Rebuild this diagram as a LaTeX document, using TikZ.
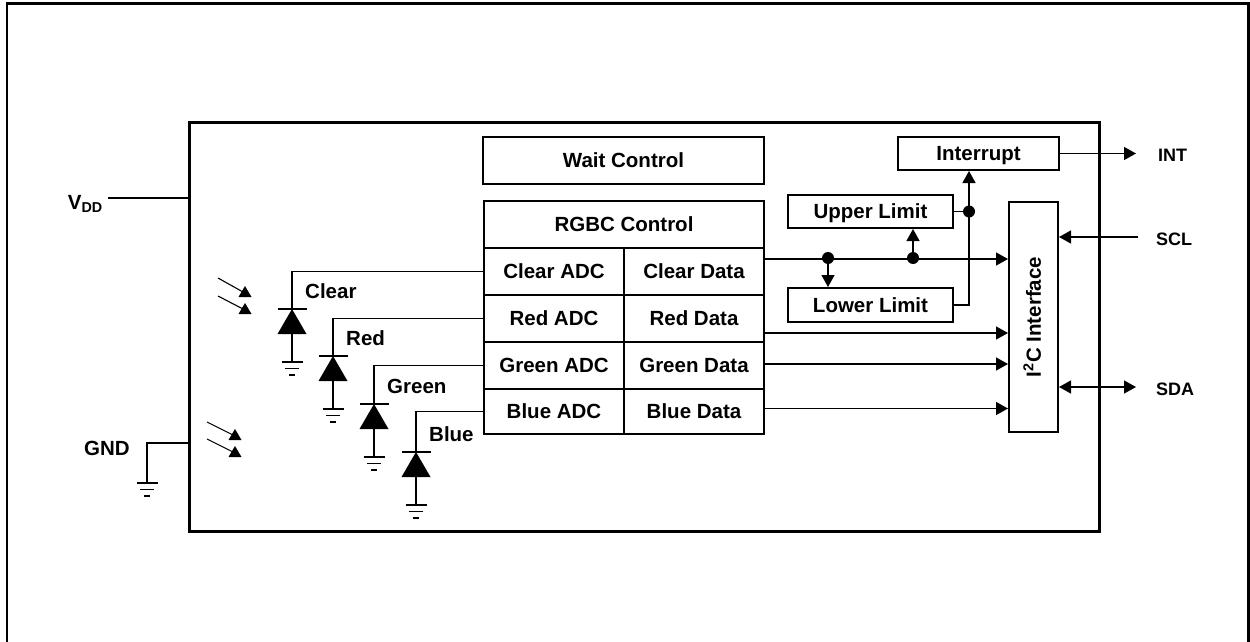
\documentclass[tikz,border=0pt]{standalone}
\usepackage{fontspec}
\setmainfont{Liberation Sans}
\usetikzlibrary{arrows.meta}
\newcommand{\lblfont}{\fontsize{20.5}{24}\selectfont\bfseries}
\newcommand{\pinfont}{\fontsize{18}{22}\selectfont\bfseries}
\begin{document}
\begin{tikzpicture}[x=1pt,y=-1pt,
  box/.style={draw, line width=2pt, font=\lblfont, inner sep=0pt, anchor=north west, text height=14.7pt, text depth=0pt},
  chipbox/.style={draw, line width=2.5pt, inner sep=0pt, anchor=north west},
  wire/.style={line width=1.3pt},
  tri/.style={-{Triangle[length=12pt,width=13pt]}},
  dtri/.style={{Triangle[length=12pt,width=13pt]}-{Triangle[length=12pt,width=13pt]}},
  lbl/.style={font=\lblfont, inner sep=0pt, text height=14.7pt, text depth=0pt},
  pin/.style={font=\pinfont, inner sep=0pt, anchor=west, text height=12.9pt, text depth=0pt},
  dot/.style={fill=black},
  gnd/.pic={\draw[wire] (-10.5,0)--(10.5,0) (-7,6.5)--(7,6.5) (-3,13)--(3,13);}
]
\useasboundingbox (0,0) rectangle (1250,642);
% outer frame
\draw[line width=2.5pt] (7,643) -- (7,3.5) -- (1248.5,3.5) -- (1248.5,643);
% chip
\node[chipbox, minimum width=910, minimum height=409] (chip) at (188,121) {};
% boxes
\node[box, minimum width=281, minimum height=47] (wait) at (482,136) {Wait Control};
\node[box, minimum width=280, minimum height=47] (rgbc) at (483,200) {RGBC Control};
\node[box, minimum width=140, minimum height=47] (clearadc) at (483,247) {Clear ADC};
\node[box, minimum width=140, minimum height=47] (cleardata) at (623,247) {Clear Data};
\node[box, minimum width=140, minimum height=47] (redadc) at (483,294) {Red ADC};
\node[box, minimum width=140, minimum height=47] (reddata) at (623,294) {Red Data};
\node[box, minimum width=140, minimum height=47] (greenadc) at (483,341) {Green ADC};
\node[box, minimum width=140, minimum height=47] (greendata) at (623,341) {Green Data};
\node[box, minimum width=140, minimum height=45] (blueadc) at (483,388) {Blue ADC};
\node[box, minimum width=140, minimum height=45] (bluedata) at (623,388) {Blue Data};
\node[box, minimum width=165, minimum height=33] (upper) at (787,194) {Upper Limit};
\node[box, minimum width=165, minimum height=34] (lower) at (787,287) {Lower Limit};
\node[box, minimum width=161, minimum height=33] (interrupt) at (897,136) {Interrupt};
\node[box, minimum width=49, minimum height=230] (i2c) at (1008,201) {};
\node[lbl, rotate=90] (i2clbl) at (i2c.center) {I\textsuperscript{2}C Interface};

% data lines to I2C
\coordinate (cd) at ([yshift=12.5pt]cleardata.east);
\coordinate (rd) at ([yshift=-14.5pt]reddata.east);
\coordinate (gd) at ([yshift=1.5pt]greendata.east);
\coordinate (bd) at ([yshift=3pt]bluedata.east);
\draw[wire,tri] (cd) -- (cd -| i2c.west);
\draw[wire,tri] (rd) -- (rd -| i2c.west);
\draw[wire,tri] (gd) -- (gd -| i2c.west);
\draw[wire,tri] (bd) -- (bd -| i2c.west);

% limits
\coordinate (j1) at (828,258);
\coordinate (j2) at (913,258);
\coordinate (vx) at (969,211);
\draw[wire,tri] (j1) -- (j1 |- lower.north);
\draw[wire,tri] (j2) -- (j2 |- upper.south);
\fill[dot] (j1) circle (6);
\fill[dot] (j2) circle (6);
\draw[wire] (upper.east) -- (upper.east -| vx);
\draw[wire,tri] (lower.east) -| (vx |- interrupt.south);
\fill[dot] (upper.east -| vx) circle (6);

% pins
\coordinate (intend) at (1136,152.5);
\coordinate (sclend) at (1138,237);
\coordinate (sdaend) at (1136,387);
\draw[wire,tri] (interrupt.east) -- (interrupt.east -| intend);
\draw[wire,tri] (sclend) -- (sclend -| i2c.east);
\draw[wire,dtri] (sdaend -| i2c.east) -- (sdaend);
\node[pin] (intlbl) at (1158,155) {INT};
\node[pin] (scllbl) at (1156,239) {SCL};
\node[pin] (sdalbl) at (1156,389) {SDA};

% VDD and GND
\coordinate (vddend) at (108,198);
\draw[wire] (vddend) -- (vddend -| chip.west);
\node[font=\lblfont, inner sep=0pt, anchor=base east] (vddlbl) at (103,209) {V\textsubscript{DD}};
\coordinate (gndw) at (147,443);
\coordinate (gndc) at (147,483);
\draw[wire] (gndw -| chip.west) -- (gndw) -- (gndc);
\pic at (gndc) {gnd};
\node[lbl, anchor=east] (gndlbl) at (130,448) {GND};

% photodiodes
\foreach \n/\x/\b/\t in {clear/292/309/Clear, red/333/356/Red, green/374/404/Green, blue/416/452/Blue}{
  \coordinate (\n top) at (\x,\b);
  \coordinate (\n base) at (\x,\b+25);
  \coordinate (\n gnd) at (\x,\b+53);
  \draw[wire] (\n adc.west) -| (\n top);
  \fill ( \n top) -- (\x-14.5,\b+25) -- (\x+14.5,\b+25) -- cycle;
  \draw[wire] (\x-14.5,\b) -- (\x+14.5,\b);
  \draw[wire] (\n base) -- (\n gnd);
  \pic at (\n gnd) {gnd};
  \node[lbl, anchor=west] (\n lbl) at (\x+13,\b-18) {\t};
}

% light arrows
\foreach \lx/\ly/\tx/\ty in {218/278/245/286, 218/296/245/303, 207/422/235/429, 207/439/235/446}{
  \draw[line width=1.1pt] (\lx,\ly) -- (\tx-2,\ty+6);
  \fill (\tx,\ty) -- (\tx-6.5,\ty+11) -- (\tx+6.5,\ty+11) -- cycle;
}
\end{tikzpicture}
\end{document}
